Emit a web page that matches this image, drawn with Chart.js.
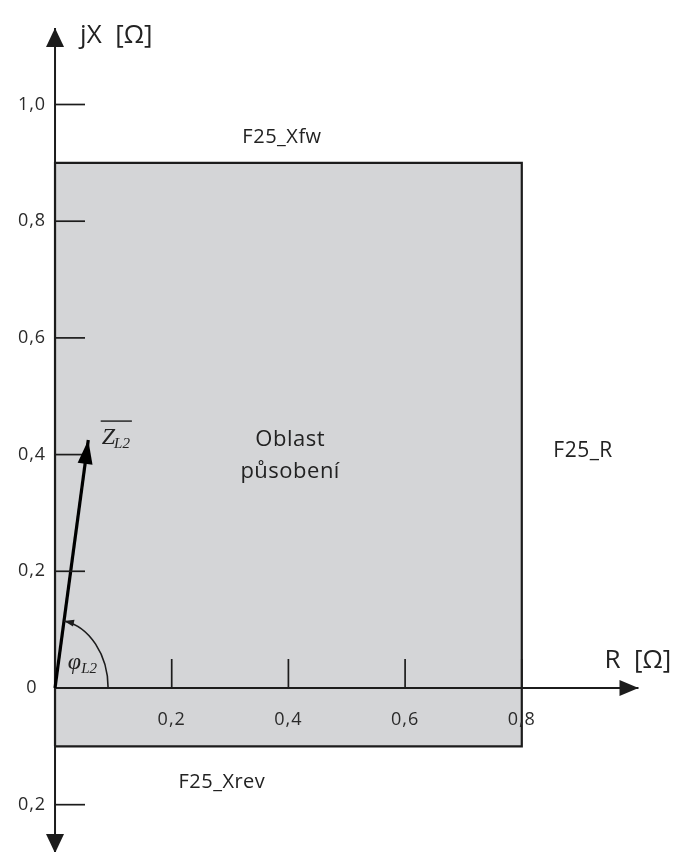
<!DOCTYPE html>
<html>
<head>
<meta charset="utf-8">
<script src="https://cdn.jsdelivr.net/npm/chart.js@4.4.1/dist/chart.umd.min.js"></script>
<style>
  html, body { margin: 0; padding: 0; background: #ffffff; }
  #wrap { width: 676px; height: 852px; }
</style>
</head>
<body>
<div id="wrap"><canvas id="chart" width="676" height="852"></canvas></div>
<script>
// Operating region of the F25 distance zone in the R-X plane
const regionR = [0, 0.8, 0.8, 0, 0];
const regionX = [-0.1, -0.1, 0.9, 0.9, -0.1];

// Line impedance phasor Z_L2 (start and end point)
const impedanceR = [0, 0.057];
const impedanceX = [0, 0.425];

// Axis extents (arrow tips)
const axisR = [0, 1.0];
const axisX = [-0.283, 1.131];

// Tick values and their labels
const xTickValues = [0.2, 0.4, 0.6, 0.8];
const xTickLabels = ['0,2', '0,4', '0,6', '0,8'];
const yTickValues = [1.0, 0.8, 0.6, 0.4, 0.2, 0, -0.2];
const yTickLabels = ['1,0', '0,8', '0,6', '0,4', '0,2', '0', '0,2'];

// Visible window of the plane
const viewR = [-0.0943, 1.0643];
const viewX = [-0.2811, 1.1791];

const FONT = '"Open Sans", "DejaVu Sans", sans-serif';
const SERIF = '"Liberation Serif", "DejaVu Serif", serif';
const INK = '#1c1c1c';
const FILL = '#d4d5d7';

const toPoints = (xs, ys) => xs.map((v, i) => ({ x: v, y: ys[i] }));

function arrowHead(ctx, tipX, tipY, angle, len, half) {
  ctx.save();
  ctx.translate(tipX, tipY);
  ctx.rotate(angle);
  ctx.beginPath();
  ctx.moveTo(0, 0);
  ctx.lineTo(-len, -half);
  ctx.lineTo(-len, half);
  ctx.closePath();
  ctx.fill();
  ctx.restore();
}

const decorations = {
  id: 'decorations',
  afterDatasetsDraw(chart) {
    const ctx = chart.ctx;
    const xs = chart.scales.x, ys = chart.scales.y;
    const px = v => xs.getPixelForValue(v);
    const py = v => ys.getPixelForValue(v);
    const ox = px(0), oy = py(0);

    ctx.save();
    ctx.fillStyle = INK;
    ctx.strokeStyle = INK;

    // axis arrowheads
    arrowHead(ctx, px(axisR[1]), oy, 0, 19, 8);
    arrowHead(ctx, ox, py(axisX[1]), -Math.PI / 2, 19, 9);
    arrowHead(ctx, ox, py(axisX[0]), Math.PI / 2, 19, 9);

    // tick marks
    ctx.lineWidth = 1.7;
    xTickValues.forEach(v => {
      ctx.beginPath();
      ctx.moveTo(px(v), oy);
      ctx.lineTo(px(v), oy - 29);
      ctx.stroke();
    });
    yTickValues.forEach(v => {
      if (v === 0) return;
      ctx.beginPath();
      ctx.moveTo(ox, py(v));
      ctx.lineTo(ox + 30, py(v));
      ctx.stroke();
    });

    // tick labels
    ctx.font = '18px ' + FONT;
    ctx.letterSpacing = '1px';
    ctx.fillStyle = '#2a2a2a';
    ctx.textBaseline = 'middle';
    ctx.textAlign = 'center';
    yTickValues.forEach((v, i) => ctx.fillText(yTickLabels[i], ox - 23, py(v)));
    xTickValues.forEach((v, i) => ctx.fillText(xTickLabels[i], px(v), oy + 32));
    ctx.letterSpacing = '0px';

    // phasor arrowhead
    ctx.fillStyle = '#000';
    const tx = px(impedanceR[1]), ty = py(impedanceX[1]);
    const ang = Math.atan2(ty - oy, tx - ox);
    arrowHead(ctx, tx, ty, ang, 24, 7.5);

    // angle arc phi_L2
    ctx.fillStyle = INK;
    const rx = px(0.091) - ox, ry = oy - py(0.1165);
    const tanV = (oy - ty) / (tx - ox);
    const t = Math.atan((rx / ry) * tanV);
    ctx.lineWidth = 1.6;
    ctx.beginPath();
    ctx.ellipse(ox, oy, rx, ry, 0, 0, -t, true);
    ctx.stroke();
    const ex = ox + rx * Math.cos(t), ey = oy - ry * Math.sin(t);
    const dir = Math.atan2(-ry * Math.cos(t), -rx * Math.sin(t));
    arrowHead(ctx, ex, ey, dir, 10, 3.5);

    // axis titles
    ctx.fillStyle = '#222';
    ctx.textBaseline = 'alphabetic';
    ctx.font = '26px ' + FONT;
    ctx.textAlign = 'left';
    ctx.fillText('jX  [\u03A9]', px(0.043), py(1.105));
    ctx.textAlign = 'center';
    ctx.fillText('R  [\u03A9]', px(0.999), py(0.035));

    // zone setting labels
    ctx.letterSpacing = '0.5px';
    ctx.font = '20px ' + FONT;
    ctx.textBaseline = 'middle';
    ctx.fillText('F25_Xfw', px(0.389), py(0.944));
    ctx.font = '21px ' + FONT;
    ctx.fillText('F25_R', px(0.905), py(0.406));
    ctx.font = '20px ' + FONT;
    ctx.fillText('F25_Xrev', px(0.286), py(-0.161));
    ctx.font = '22px ' + FONT;
    ctx.fillText('Oblast', px(0.403), py(0.425));
    ctx.fillText('působení', px(0.403), py(0.370));
    ctx.letterSpacing = '0px';

    // phasor label with overline
    ctx.textAlign = 'left';
    ctx.textBaseline = 'alphabetic';
    const zx = px(0.080), zy = py(0.418);
    ctx.font = 'italic 24px ' + SERIF;
    ctx.fillText('Z', zx, zy);
    const zw = ctx.measureText('Z').width;
    ctx.font = 'italic 15px ' + SERIF;
    ctx.fillText('L2', zx + zw - 1, zy + 4);
    const lw = ctx.measureText('L2').width;
    ctx.lineWidth = 1.4;
    ctx.beginPath();
    ctx.moveTo(zx - 1, zy - 23);
    ctx.lineTo(zx + zw + lw + 1, zy - 23);
    ctx.stroke();

    // angle label
    const fx = px(0.022), fy = py(0.032);
    ctx.font = 'italic 24px ' + SERIF;
    ctx.fillText('\u03C6', fx, fy);
    const fw = ctx.measureText('\u03C6').width;
    ctx.font = 'italic 15px ' + SERIF;
    ctx.fillText('L2', fx + fw, fy + 4);

    ctx.restore();
  }
};

new Chart(document.getElementById('chart'), {
  type: 'scatter',
  data: {
    // datasets listed first are painted on top
    datasets: [
      {
        label: 'Z_L2',
        data: toPoints(impedanceR, impedanceX),
        showLine: true,
        borderColor: '#000',
        borderWidth: 3.2,
        pointRadius: 0
      },
      {
        label: 'R',
        data: toPoints(axisR, [0, 0]),
        showLine: true,
        borderColor: INK,
        borderWidth: 2,
        pointRadius: 0
      },
      {
        label: 'jX',
        data: toPoints([0, 0], axisX),
        showLine: true,
        borderColor: INK,
        borderWidth: 2,
        pointRadius: 0
      },
      {
        label: 'Oblast působení',
        data: toPoints(regionR, regionX),
        showLine: true,
        fill: 'shape',
        backgroundColor: FILL,
        borderColor: INK,
        borderWidth: 2.2,
        pointRadius: 0,
        tension: 0
      }
    ]
  },
  options: {
    responsive: false,
    animation: false,
    layout: { padding: 0 },
    plugins: { legend: { display: false }, tooltip: { enabled: false } },
    scales: {
      x: { type: 'linear', min: viewR[0], max: viewR[1], display: false },
      y: { type: 'linear', min: viewX[0], max: viewX[1], display: false }
    }
  },
  plugins: [decorations]
});
</script>
</body>
</html>
